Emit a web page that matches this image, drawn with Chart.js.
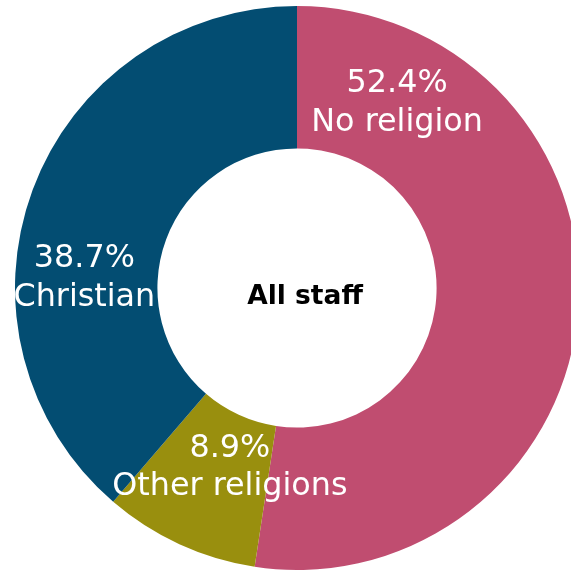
<!DOCTYPE html>
<html>
<head>
<meta charset="utf-8">
<script src="https://cdn.jsdelivr.net/npm/chart.js@4/dist/chart.umd.min.js"></script>
<style>
html,body{margin:0;padding:0;background:#fff;}
#wrap{width:571px;height:571px;overflow:hidden;position:relative;}
#c{position:absolute;left:0;top:0;}
</style>
</head>
<body>
<div id="wrap"><canvas id="c" width="594" height="576"></canvas></div>
<script>
const categories = ["No religion", "Other religions", "Christian"];
const values = [52.4, 8.9, 38.7];
const colors = ["#C04D70", "#998F0E", "#034D72"];
const centerTitle = "All staff";

// label anchor offsets relative to chart centre, in units of outer radius
const labelOffsets = [[0.355, -0.694], [-0.238, 0.598], [-0.754, -0.073]];

const labelPlugin = {
  id: 'sliceLabels',
  afterDatasetsDraw(chart) {
    const ctx = chart.ctx;
    const meta = chart.getDatasetMeta(0);
    const arc0 = meta.data[0];
    const cx = arc0.x, cy = arc0.y, r = arc0.outerRadius;
    ctx.save();
    ctx.fillStyle = '#ffffff';
    ctx.textAlign = 'center';
    ctx.textBaseline = 'alphabetic';
    ctx.font = '31.8px "DejaVu Sans", Verdana, sans-serif';
    const gap = 0.1365 * r;
    meta.data.forEach((arc, i) => {
      const x = cx + labelOffsets[i][0] * r;
      const y = cy + labelOffsets[i][1] * r;
      ctx.fillText(values[i].toFixed(1) + '%', x, y);
      ctx.fillText(categories[i], x, y + gap);
    });
    ctx.fillStyle = '#000000';
    ctx.font = 'bold 26.5px "DejaVu Sans", Verdana, sans-serif';
    ctx.fillText(centerTitle, cx + 8, cy + 16);
    ctx.restore();
  }
};

new Chart(document.getElementById('c'), {
  type: 'doughnut',
  data: {
    labels: categories,
    datasets: [{
      data: values,
      backgroundColor: colors,
      borderWidth: 0
    }]
  },
  options: {
    responsive: false,
    animation: false,
    cutout: '49.5%',
    layout: { padding: 6 },
    plugins: {
      legend: { display: false },
      tooltip: { enabled: false },
      title: { display: false }
    }
  },
  plugins: [labelPlugin]
});
</script>
</body>
</html>
